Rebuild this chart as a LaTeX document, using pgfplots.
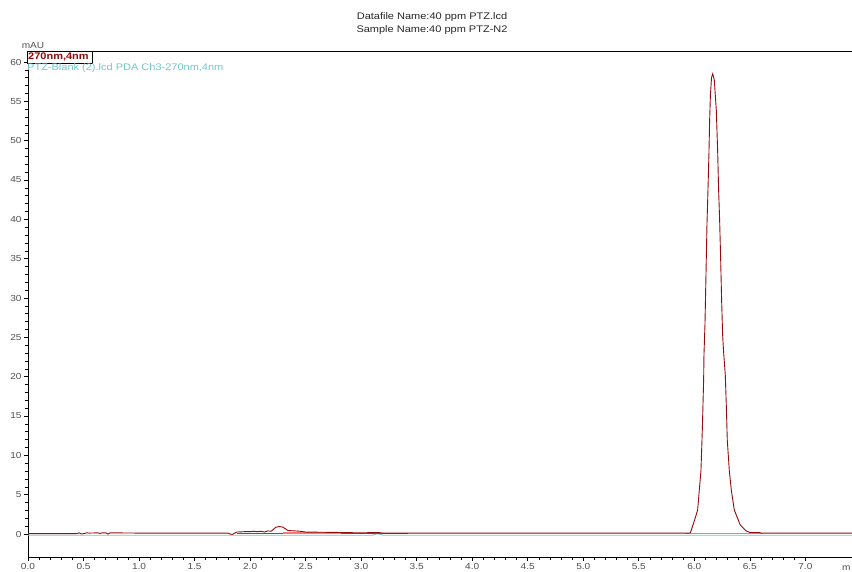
\documentclass[border=0pt]{standalone}
\usepackage{pgfplots}
\pgfplotsset{compat=1.18}
\usepackage{fontspec}
\setmainfont{Liberation Sans}
\newfontfamily\widefont[FakeStretch=1.15]{Liberation Sans}
\definecolor{pkred}{RGB}{150,10,10}
\definecolor{blankcyan}{RGB}{110,200,205}
\definecolor{intred}{RGB}{255,20,20}
\definecolor{intpink}{RGB}{255,120,120}
\definecolor{ticklab}{RGB}{80,80,80}
\begin{document}
\begin{tikzpicture}
\path[use as bounding box] (-28bp,-15bp) rectangle (824bp,557bp);
\begin{axis}[
  at={(0,0)}, anchor=south west,
  scale only axis, width=824bp, height=506bp,
  xmin=0, xmax=7.42, ymin=-2.92, ymax=61.4,
  axis x line*=bottom, axis y line*=left,
  axis line style={black, line width=0.8bp, -},
  xtick={0,0.5,...,7.0}, minor x tick num=4,
  ytick={0,5,...,60}, minor y tick num=4,
  tick align=outside,
  major tick length=4bp, minor tick length=3bp,
  tick style={black, line width=0.6bp},
  xticklabel style={font=\widefont\fontsize{8.8}{9}\selectfont, text=ticklab, /pgf/number format/fixed, /pgf/number format/fixed zerofill, /pgf/number format/precision=1, yshift=1bp},
  yticklabel style={font=\widefont\fontsize{8.8}{9}\selectfont, text=ticklab, xshift=1bp},
  /pgf/number format/assume math mode=true,
  clip=false,
]
% blank (cyan)
\addplot[blankcyan, line width=0.9bp] coordinates {
(0,-0.15) (1.0,-0.15) (2.0,-0.15) (3.1,-0.15) (3.15,0.05) (3.2,-0.15) (5.0,-0.15) (7.42,-0.15)
};
% integration baselines
\addplot[intred, line width=1.4bp] coordinates {(1.88,0.05) (3.42,0.05)};
\addplot[intpink, line width=1.4bp] coordinates {(2.3,0.12) (2.82,0.12)};
\addplot[intpink, line width=1.2bp] coordinates {(5.92,0.05) (6.62,0.05)};
% sample chromatogram
\addplot[pkred, line width=0.9bp] coordinates {
(0,0.05) (0.44,0.05) (0.46,0.15) (0.48,0.0) (0.5,0.05) (0.53,0.15) (0.55,0.12)
(0.63,0.15) (0.65,0.08) (0.67,0.15) (0.7,0.15) (0.72,0.0) (0.74,0.15)
(1.0,0.12) (1.5,0.12) (1.8,0.12) (1.82,0.0) (1.84,-0.05) (1.86,0.1) (1.88,0.25)
(1.95,0.3) (2.0,0.3) (2.03,0.35) (2.06,0.3) (2.1,0.35) (2.13,0.25) (2.16,0.4)
(2.19,0.35) (2.21,0.6) (2.23,0.85) (2.26,0.95) (2.29,0.9) (2.32,0.65) (2.34,0.45)
(2.4,0.4) (2.45,0.35) (2.5,0.25) (2.8,0.2) (3.0,0.15) (3.15,0.2) (3.2,0.12)
(3.5,0.12) (4.5,0.12) (5.5,0.12) (5.95,0.12)
(5.964,0.15) (5.975,0.6) (6.003,1.8) (6.030,3.05) (6.045,5.6) (6.060,8.1)
(6.072,13.2) (6.078,16.4) (6.084,19.6) (6.087,22.8) (6.096,26.6) (6.105,32.9)
(6.114,39.3) (6.123,43.7) (6.132,48.5) (6.138,52.6) (6.145,55.8) (6.155,58.0)
(6.165,58.5) (6.172,58.2) (6.180,57.7) (6.198,53.9) (6.210,48.8) (6.219,43.7)
(6.228,39.9) (6.237,35.1) (6.246,29.7) (6.255,25.3) (6.264,23.1) (6.279,20.2)
(6.288,16.4) (6.297,11.9) (6.315,8.1) (6.333,5.6) (6.360,3.05) (6.414,1.14)
(6.468,0.38) (6.505,0.18) (6.59,0.18) (6.60,0.12) (7.0,0.12) (7.42,0.12)
};
\end{axis}
% top frame line
\draw[black, line width=0.8bp] (0,506bp) -- (824bp,506bp);
% title
\node[font=\widefont\fontsize{9.6}{12.5}\selectfont, text=black!85, align=center] at (404bp,533.5bp)
  {Datafile Name:40 ppm PTZ.lcd\\Sample Name:40 ppm PTZ-N2};
\node[font=\widefont\fontsize{8.8}{9}\selectfont, text=ticklab] at (5bp,511bp) {mAU};
% legend
\draw[black, line width=0.8bp, fill=white] (-1bp,494bp) rectangle (64bp,506bp);
\node[font=\widefont\fontsize{9.6}{10}\selectfont\bfseries, text=pkred, anchor=west, inner sep=0pt] at (0bp,500bp) {270nm,4nm};
\node[font=\widefont\fontsize{9.6}{10}\selectfont, text=blankcyan, anchor=west, inner sep=0pt] at (-1bp,488.5bp) {PTZ-Blank (2).lcd PDA Ch3-270nm,4nm};
\node[font=\widefont\fontsize{8.8}{9}\selectfont, text=ticklab, anchor=west, inner sep=0pt] at (814bp,-11bp) {m};
\end{tikzpicture}
\end{document}
